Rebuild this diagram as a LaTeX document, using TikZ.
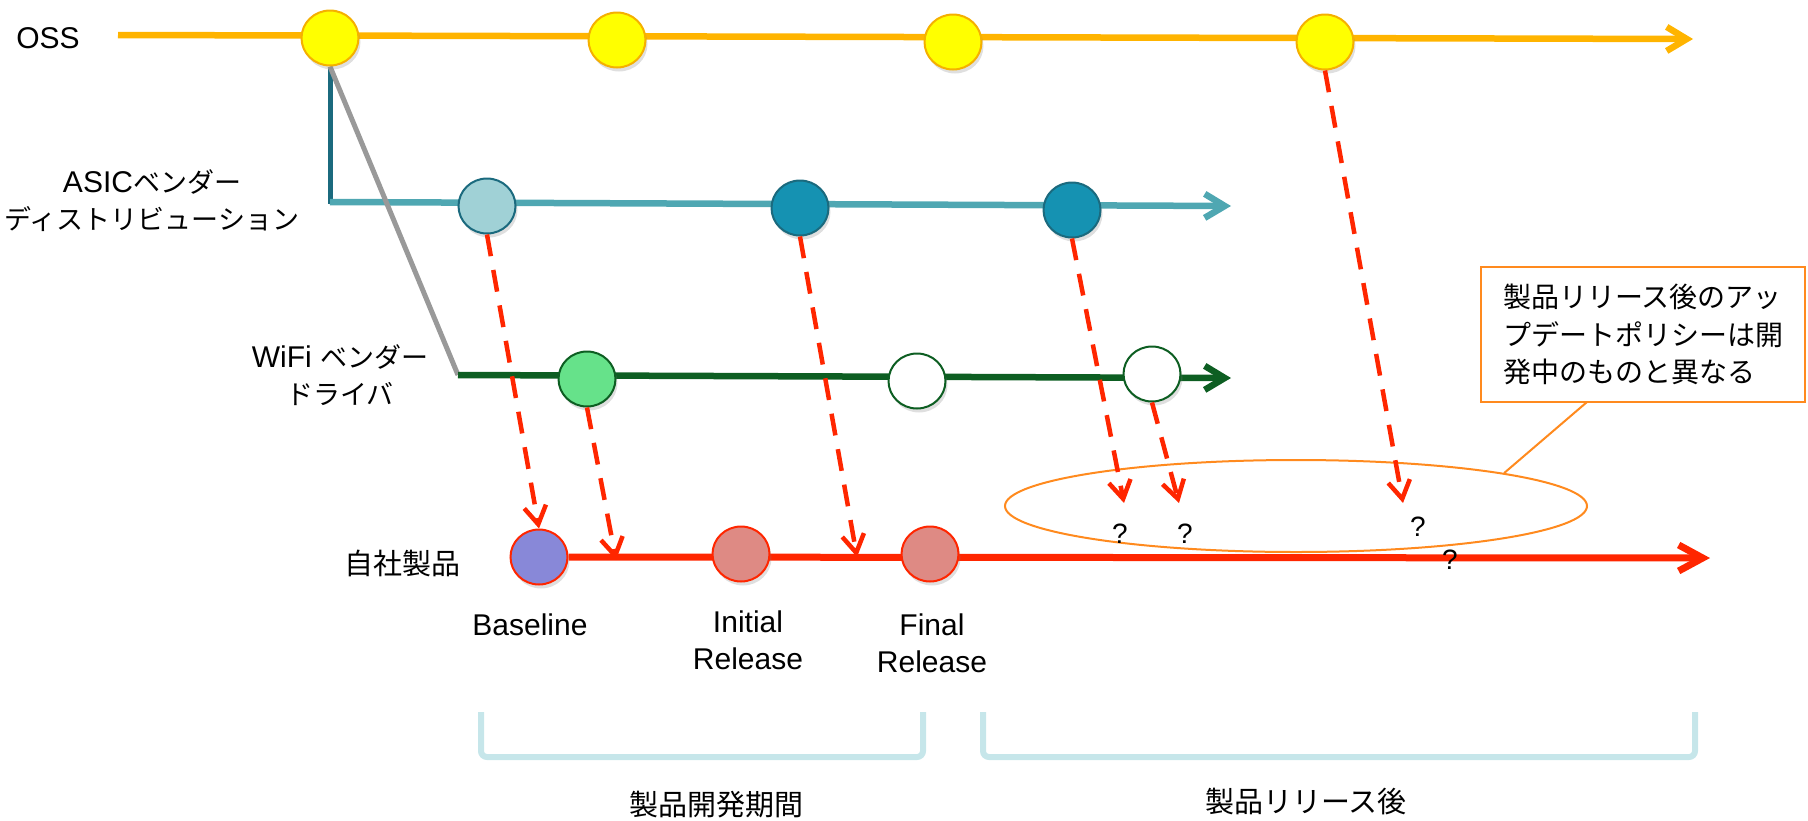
\documentclass[tikz,border=0pt]{standalone}
\usepackage{fontspec}
\setmainfont{Liberation Sans}
\newfontfamily\cjk{Noto Sans CJK JP}
\usetikzlibrary{arrows.meta,shapes.geometric,shadows}
\pgfdeclarelayer{background}
\pgfsetlayers{background,main}
\definecolor{ossline}{HTML}{FFB400}
\definecolor{ossfill}{HTML}{FFFF00}
\definecolor{ossdraw}{HTML}{F5B000}
\definecolor{asicline}{HTML}{4FA7B2}
\definecolor{asicdark}{HTML}{1B6A7E}
\definecolor{asiclight}{HTML}{A0D1D6}
\definecolor{asicfill}{HTML}{1592B2}
\definecolor{wifiline}{HTML}{0D5E22}
\definecolor{wififill}{HTML}{66E28A}
\definecolor{redline}{HTML}{FF2600}
\definecolor{basefill}{HTML}{8888D8}
\definecolor{relfill}{HTML}{DE8A84}
\definecolor{callout}{HTML}{FF8A1E}
\definecolor{bracketc}{HTML}{C6E6EA}
\newcommand\jtext[1]{{\cjk\fontsize{27}{37}\selectfont #1}}
\begin{document}
\begin{tikzpicture}[x=1pt,y=-1pt,
  dot/.style={ellipse, draw, line width=2, minimum width=57, minimum height=55, inner sep=0,
    drop shadow={opacity=0.25, shadow xshift=2pt, shadow yshift=-4pt}},
  ossdot/.style={dot, fill=ossfill, draw=ossdraw},
  asiclt/.style={dot, fill=asiclight, draw=asicdark},
  asicdk/.style={dot, fill=asicfill, draw=asicdark},
  wifidot/.style={dot, fill=wififill, draw=wifiline},
  wifiwhite/.style={dot, fill=white, draw=wifiline},
  basedot/.style={dot, fill=basefill, draw=redline},
  reldot/.style={dot, fill=relfill, draw=redline},
  lbl/.style={font=\fontsize{30}{37}\selectfont, align=center, inner sep=0},
  jlbl/.style={font=\cjk\fontsize{29}{37}\selectfont, align=center, inner sep=0},
  qm/.style={font=\fontsize{28}{30}\selectfont, inner sep=0},
  timeline/.style={line width=6.5, -{Straight Barb[length=20pt,width=24pt]}},
  dasharrow/.style={draw=redline, line width=4.5, dash pattern=on 22pt off 14pt,
    -{Straight Barb[length=18pt,width=22pt]}},
  brk/.style={draw=bracketc, line width=6, rounded corners=6},
  calloutln/.style={draw=callout, line width=2}
]
\useasboundingbox (0,0) rectangle (1808,820);

% coordinates for line ends
\coordinate (ossstart) at (118,35);
\coordinate (ossend) at (1693,39);
\coordinate (asicstart) at (330,204);
\coordinate (asiccorner) at (330,202);
\coordinate (asicend) at (1231,206);
\coordinate (wifistart) at (458,375);
\coordinate (wifiend) at (1231,378);
\coordinate (redend) at (1710,558);

% OSS nodes
\node[ossdot] (y1) at (330,38) {};
\node[ossdot] (y2) at (617,40) {};
\node[ossdot] (y3) at (953,42) {};
\node[ossdot] (y4) at (1325,42) {};

% ASIC nodes
\node[asiclt] (a1) at (487,206) {};
\node[asicdk] (a2) at (800,208) {};
\node[asicdk] (a3) at (1072,210) {};

% WiFi nodes
\node[wifidot] (w1) at (587,379) {};
\node[wifiwhite] (w2) at (917,381) {};
\node[wifiwhite] (w3) at (1152,374) {};

% product nodes
\node[basedot] (p1) at (539,557) {};
\node[reldot] (p2) at (741,554) {};
\node[reldot] (p3) at (930,554) {};

\begin{pgfonlayer}{background}
  \draw[timeline, ossline] (ossstart) -- (ossend);
  \draw[line width=5, asicdark] (y1.south) -- (asicstart);
  \draw[timeline, asicline] (asiccorner) -- (asicend);
  \draw[line width=5, gray!80] (y1.south) -- (wifistart);
  \draw[timeline, wifiline] (wifistart) -- (wifiend);
  \draw[line width=7, redline, -{Straight Barb[length=24pt,width=26pt]}] (p1) -- (redend);
\end{pgfonlayer}

% labels
\node[lbl] (osslbl) at (48,38) {OSS};
\node[lbl] (asiclbl) at (152,201) {ASIC\jtext{ベンダー}\\\jtext{ディストリビューション}};
\node[lbl] (wifilbl) at (340,375) {WiFi \jtext{ベンダー}\\\jtext{ドライバ}};
\node[jlbl] (ownlbl) at (402,563) {自社製品};
\node[lbl] (baselbl) at (530,625) {Baseline};
\node[lbl] (initlbl) at (748,640) {Initial\\Release};
\node[lbl] (finallbl) at (932,643) {Final\\Release};

% ellipse and callout
\node[ellipse, calloutln, minimum width=582, minimum height=92, inner sep=0] (ell) at (1296,506) {};
\node[draw=callout, line width=2, fill=white, minimum width=324, minimum height=135, inner sep=0,
  font=\cjk\fontsize{28}{37.5}\selectfont, align=left] (note) at (1643,334.5)
  {製品リリース後のアッ\\プデートポリシーは開\\発中のものと異なる};
\coordinate (notept) at (1587,402);
\draw[calloutln] (notept) -- (ell.9);

% target coordinates
\coordinate (t2) at (616,560);
\coordinate (t3) at (857,557);
\coordinate (t4) at (1124,503);
\coordinate (t5) at (1179,503);
\coordinate (t6) at (1403,503);

% dashed arrows
\draw[dasharrow] (a1.south) -- (p1.north);
\draw[dasharrow] (w1.south) -- (t2);
\draw[dasharrow] (a2.south) -- (t3);
\draw[dasharrow] (a3.south) -- (t4);
\draw[dasharrow] (w3.south) -- (t5);
\draw[dasharrow] (y4.south) -- (t6);

% question marks
\node[qm] (q1) at (1120,534) {?};
\node[qm] (q2) at (1185,534) {?};
\node[qm] (q3) at (1418,527) {?};
\node[qm] (q4) at (1450,560) {?};

% brackets
\draw[brk] (481,712) -- (481,757) -- (923,757) -- (923,712);
\draw[brk] (983,712) -- (983,757) -- (1695,757) -- (1695,712);
\node[jlbl] (devlbl) at (716,805) {製品開発期間};
\node[jlbl] (postlbl) at (1306,802) {製品リリース後};
\end{tikzpicture}
\end{document}
